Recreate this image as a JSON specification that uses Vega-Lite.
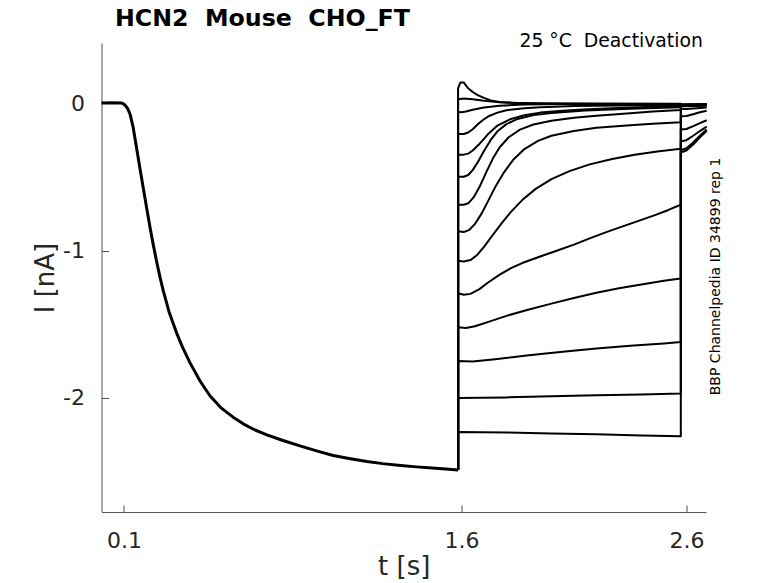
{
  "$schema": "https://vega.github.io/schema/vega-lite/v6.json",
  "width": 604.5,
  "height": 469,
  "autosize": {"type": "none"},
  "padding": {"left": 101.5, "top": 43, "right": 72, "bottom": 71},
  "background": "white",
  "config": {"view": {"stroke": null}, "font": "DejaVu Sans"},
  "title": {"text": "HCN2\u00a0\u00a0Mouse\u00a0\u00a0CHO_FT", "anchor": "start", "frame": "group", "dx": 13.5, "offset": 1, "fontSize": 23.7, "fontWeight": "bold", "font": "DejaVu Sans", "color": "#000000"},
  "layer": [
    {
      "data": {"values": [
        {"s":"pre","t":0,"I":0},{"s":"pre","t":0.04,"I":0.002},{"s":"pre","t":0.09,"I":0},{"s":"pre","t":0.097,"I":-0.005},{"s":"pre","t":0.105,"I":-0.015},{"s":"pre","t":0.115,"I":-0.035},{"s":"pre","t":0.127,"I":-0.075},{"s":"pre","t":0.14,"I":-0.16},{"s":"pre","t":0.156,"I":-0.305},{"s":"pre","t":0.17,"I":-0.435},{"s":"pre","t":0.186,"I":-0.58},{"s":"pre","t":0.2,"I":-0.705},{"s":"pre","t":0.216,"I":-0.845},{"s":"pre","t":0.23,"I":-0.96},{"s":"pre","t":0.245,"I":-1.075},{"s":"pre","t":0.26,"I":-1.18},{"s":"pre","t":0.275,"I":-1.275},{"s":"pre","t":0.3,"I":-1.415},{"s":"pre","t":0.334,"I":-1.56},{"s":"pre","t":0.36,"I":-1.655},{"s":"pre","t":0.393,"I":-1.76},{"s":"pre","t":0.438,"I":-1.885},{"s":"pre","t":0.482,"I":-1.985},{"s":"pre","t":0.53,"I":-2.065},{"s":"pre","t":0.585,"I":-2.13},{"s":"pre","t":0.63,"I":-2.175},{"s":"pre","t":0.68,"I":-2.215},{"s":"pre","t":0.735,"I":-2.25},{"s":"pre","t":0.8,"I":-2.285},{"s":"pre","t":0.882,"I":-2.325},{"s":"pre","t":0.96,"I":-2.36},{"s":"pre","t":1.03,"I":-2.39},{"s":"pre","t":1.1,"I":-2.41},{"s":"pre","t":1.18,"I":-2.43},{"s":"pre","t":1.25,"I":-2.445},{"s":"pre","t":1.33,"I":-2.458},{"s":"pre","t":1.4,"I":-2.467},{"s":"pre","t":1.47,"I":-2.475},{"s":"pre","t":1.53,"I":-2.482},{"s":"pre","t":1.585,"I":-2.488},

        {"s":"k1","t":1.585,"I":-2.488},{"s":"k1","t":1.585,"I":0.1},{"s":"k1","t":1.595,"I":0.14},{"s":"k1","t":1.61,"I":0.14},{"s":"k1","t":1.63,"I":0.1},{"s":"k1","t":1.65,"I":0.075},{"s":"k1","t":1.67,"I":0.055},{"s":"k1","t":1.7,"I":0.035},{"s":"k1","t":1.73,"I":0.018},{"s":"k1","t":1.77,"I":0.007},{"s":"k1","t":1.82,"I":0.002},{"s":"k1","t":1.95,"I":-0.003},{"s":"k1","t":2.2,"I":-0.005},{"s":"k1","t":2.575,"I":-0.005},{"s":"k1","t":2.575,"I":-0.01},{"s":"k1","t":2.69,"I":-0.008},

        {"s":"k2","t":1.585,"I":-2.488},{"s":"k2","t":1.585,"I":0.025},{"s":"k2","t":1.61,"I":0.03},{"s":"k2","t":1.65,"I":0.025},{"s":"k2","t":1.7,"I":0.015},{"s":"k2","t":1.77,"I":0.006},{"s":"k2","t":1.85,"I":0},{"s":"k2","t":2.0,"I":-0.004},{"s":"k2","t":2.575,"I":-0.006},{"s":"k2","t":2.575,"I":-0.01},{"s":"k2","t":2.69,"I":-0.008},

        {"s":"k3","t":1.585,"I":-2.488},{"s":"k3","t":1.585,"I":-0.06},{"s":"k3","t":1.6,"I":-0.062},{"s":"k3","t":1.62,"I":-0.057},{"s":"k3","t":1.65,"I":-0.045},{"s":"k3","t":1.7,"I":-0.03},{"s":"k3","t":1.77,"I":-0.018},{"s":"k3","t":1.88,"I":-0.01},{"s":"k3","t":2.05,"I":-0.007},{"s":"k3","t":2.575,"I":-0.008},{"s":"k3","t":2.575,"I":-0.012},{"s":"k3","t":2.69,"I":-0.01},

        {"s":"k4","t":1.585,"I":-2.488},{"s":"k4","t":1.585,"I":-0.21},{"s":"k4","t":1.61,"I":-0.21},{"s":"k4","t":1.63,"I":-0.2},{"s":"k4","t":1.65,"I":-0.178},{"s":"k4","t":1.675,"I":-0.14},{"s":"k4","t":1.7,"I":-0.11},{"s":"k4","t":1.72,"I":-0.09},{"s":"k4","t":1.76,"I":-0.065},{"s":"k4","t":1.8,"I":-0.049},{"s":"k4","t":1.88,"I":-0.035},{"s":"k4","t":1.95,"I":-0.029},{"s":"k4","t":2.1,"I":-0.021},{"s":"k4","t":2.3,"I":-0.016},{"s":"k4","t":2.575,"I":-0.012},{"s":"k4","t":2.575,"I":-0.013},{"s":"k4","t":2.69,"I":-0.011},

        {"s":"k5","t":1.585,"I":-2.488},{"s":"k5","t":1.585,"I":-0.35},{"s":"k5","t":1.61,"I":-0.35},{"s":"k5","t":1.63,"I":-0.343},{"s":"k5","t":1.65,"I":-0.322},{"s":"k5","t":1.675,"I":-0.285},{"s":"k5","t":1.7,"I":-0.243},{"s":"k5","t":1.72,"I":-0.208},{"s":"k5","t":1.76,"I":-0.153},{"s":"k5","t":1.82,"I":-0.108},{"s":"k5","t":1.88,"I":-0.083},{"s":"k5","t":1.95,"I":-0.065},{"s":"k5","t":2.05,"I":-0.052},{"s":"k5","t":2.16,"I":-0.043},{"s":"k5","t":2.3,"I":-0.033},{"s":"k5","t":2.45,"I":-0.025},{"s":"k5","t":2.575,"I":-0.02},{"s":"k5","t":2.575,"I":-0.014},{"s":"k5","t":2.69,"I":-0.012},

        {"s":"k6","t":1.585,"I":-2.488},{"s":"k6","t":1.585,"I":-0.5},{"s":"k6","t":1.61,"I":-0.5},{"s":"k6","t":1.63,"I":-0.488},{"s":"k6","t":1.65,"I":-0.455},{"s":"k6","t":1.675,"I":-0.395},{"s":"k6","t":1.7,"I":-0.325},{"s":"k6","t":1.73,"I":-0.25},{"s":"k6","t":1.76,"I":-0.192},{"s":"k6","t":1.8,"I":-0.143},{"s":"k6","t":1.85,"I":-0.108},{"s":"k6","t":1.92,"I":-0.082},{"s":"k6","t":2.0,"I":-0.067},{"s":"k6","t":2.15,"I":-0.05},{"s":"k6","t":2.35,"I":-0.038},{"s":"k6","t":2.575,"I":-0.028},{"s":"k6","t":2.575,"I":-0.015},{"s":"k6","t":2.69,"I":-0.013},

        {"s":"k7","t":1.585,"I":-2.488},{"s":"k7","t":1.585,"I":-0.69},{"s":"k7","t":1.61,"I":-0.69},{"s":"k7","t":1.63,"I":-0.68},{"s":"k7","t":1.655,"I":-0.638},{"s":"k7","t":1.68,"I":-0.57},{"s":"k7","t":1.71,"I":-0.47},{"s":"k7","t":1.74,"I":-0.375},{"s":"k7","t":1.77,"I":-0.3},{"s":"k7","t":1.81,"I":-0.232},{"s":"k7","t":1.86,"I":-0.18},{"s":"k7","t":1.92,"I":-0.146},{"s":"k7","t":2.0,"I":-0.12},{"s":"k7","t":2.1,"I":-0.1},{"s":"k7","t":2.2,"I":-0.087},{"s":"k7","t":2.35,"I":-0.07},{"s":"k7","t":2.45,"I":-0.058},{"s":"k7","t":2.575,"I":-0.047},{"s":"k7","t":2.575,"I":-0.018},{"s":"k7","t":2.69,"I":-0.015},

        {"s":"k8","t":1.585,"I":-2.488},{"s":"k8","t":1.585,"I":-0.87},{"s":"k8","t":1.61,"I":-0.875},{"s":"k8","t":1.635,"I":-0.86},{"s":"k8","t":1.66,"I":-0.82},{"s":"k8","t":1.69,"I":-0.748},{"s":"k8","t":1.72,"I":-0.66},{"s":"k8","t":1.75,"I":-0.57},{"s":"k8","t":1.79,"I":-0.468},{"s":"k8","t":1.83,"I":-0.385},{"s":"k8","t":1.88,"I":-0.312},{"s":"k8","t":1.94,"I":-0.257},{"s":"k8","t":2.0,"I":-0.222},{"s":"k8","t":2.1,"I":-0.19},{"s":"k8","t":2.2,"I":-0.168},{"s":"k8","t":2.35,"I":-0.15},{"s":"k8","t":2.45,"I":-0.14},{"s":"k8","t":2.575,"I":-0.13},{"s":"k8","t":2.575,"I":-0.022},{"s":"k8","t":2.69,"I":-0.018},

        {"s":"k9","t":1.585,"I":-2.488},{"s":"k9","t":1.585,"I":-1.07},{"s":"k9","t":1.61,"I":-1.075},{"s":"k9","t":1.64,"I":-1.065},{"s":"k9","t":1.67,"I":-1.03},{"s":"k9","t":1.7,"I":-0.975},{"s":"k9","t":1.74,"I":-0.893},{"s":"k9","t":1.78,"I":-0.812},{"s":"k9","t":1.82,"I":-0.738},{"s":"k9","t":1.87,"I":-0.658},{"s":"k9","t":1.93,"I":-0.582},{"s":"k9","t":2.0,"I":-0.516},{"s":"k9","t":2.08,"I":-0.462},{"s":"k9","t":2.17,"I":-0.416},{"s":"k9","t":2.27,"I":-0.379},{"s":"k9","t":2.37,"I":-0.35},{"s":"k9","t":2.47,"I":-0.328},{"s":"k9","t":2.575,"I":-0.31},{"s":"k9","t":2.575,"I":-0.04},{"s":"k9","t":2.6,"I":-0.04},{"s":"k9","t":2.69,"I":-0.03},

        {"s":"k10","t":1.585,"I":-2.488},{"s":"k10","t":1.585,"I":-1.29},{"s":"k10","t":1.61,"I":-1.3},{"s":"k10","t":1.64,"I":-1.294},{"s":"k10","t":1.68,"I":-1.262},{"s":"k10","t":1.72,"I":-1.215},{"s":"k10","t":1.77,"I":-1.163},{"s":"k10","t":1.82,"I":-1.12},{"s":"k10","t":1.87,"I":-1.085},{"s":"k10","t":1.95,"I":-1.041},{"s":"k10","t":2.02,"I":-1.003},{"s":"k10","t":2.1,"I":-0.96},{"s":"k10","t":2.17,"I":-0.918},{"s":"k10","t":2.25,"I":-0.872},{"s":"k10","t":2.32,"I":-0.835},{"s":"k10","t":2.4,"I":-0.792},{"s":"k10","t":2.46,"I":-0.76},{"s":"k10","t":2.52,"I":-0.725},{"s":"k10","t":2.575,"I":-0.69},{"s":"k10","t":2.575,"I":-0.09},{"s":"k10","t":2.6,"I":-0.088},{"s":"k10","t":2.63,"I":-0.076},{"s":"k10","t":2.66,"I":-0.063},{"s":"k10","t":2.69,"I":-0.052},

        {"s":"k11","t":1.585,"I":-2.488},{"s":"k11","t":1.585,"I":-1.52},{"s":"k11","t":1.62,"I":-1.525},{"s":"k11","t":1.66,"I":-1.514},{"s":"k11","t":1.72,"I":-1.484},{"s":"k11","t":1.8,"I":-1.443},{"s":"k11","t":1.9,"I":-1.4},{"s":"k11","t":2.0,"I":-1.36},{"s":"k11","t":2.1,"I":-1.322},{"s":"k11","t":2.2,"I":-1.287},{"s":"k11","t":2.3,"I":-1.256},{"s":"k11","t":2.4,"I":-1.23},{"s":"k11","t":2.5,"I":-1.205},{"s":"k11","t":2.575,"I":-1.19},{"s":"k11","t":2.575,"I":-0.18},{"s":"k11","t":2.6,"I":-0.176},{"s":"k11","t":2.63,"I":-0.157},{"s":"k11","t":2.66,"I":-0.136},{"s":"k11","t":2.69,"I":-0.117},

        {"s":"k12","t":1.585,"I":-2.488},{"s":"k12","t":1.585,"I":-1.75},{"s":"k12","t":1.65,"I":-1.752},{"s":"k12","t":1.75,"I":-1.737},{"s":"k12","t":1.9,"I":-1.71},{"s":"k12","t":2.05,"I":-1.686},{"s":"k12","t":2.2,"I":-1.665},{"s":"k12","t":2.35,"I":-1.645},{"s":"k12","t":2.5,"I":-1.63},{"s":"k12","t":2.575,"I":-1.62},{"s":"k12","t":2.575,"I":-0.26},{"s":"k12","t":2.6,"I":-0.252},{"s":"k12","t":2.63,"I":-0.222},{"s":"k12","t":2.66,"I":-0.19},{"s":"k12","t":2.69,"I":-0.16},

        {"s":"k13","t":1.585,"I":-2.488},{"s":"k13","t":1.585,"I":-2.0},{"s":"k13","t":1.8,"I":-1.996},{"s":"k13","t":2.0,"I":-1.988},{"s":"k13","t":2.2,"I":-1.982},{"s":"k13","t":2.4,"I":-1.976},{"s":"k13","t":2.575,"I":-1.97},{"s":"k13","t":2.575,"I":-0.32},{"s":"k13","t":2.6,"I":-0.307},{"s":"k13","t":2.63,"I":-0.268},{"s":"k13","t":2.66,"I":-0.222},{"s":"k13","t":2.69,"I":-0.18},

        {"s":"k14","t":1.585,"I":-2.488},{"s":"k14","t":1.585,"I":-2.23},{"s":"k14","t":1.8,"I":-2.234},{"s":"k14","t":2.0,"I":-2.24},{"s":"k14","t":2.2,"I":-2.246},{"s":"k14","t":2.4,"I":-2.254},{"s":"k14","t":2.575,"I":-2.26},{"s":"k14","t":2.575,"I":-0.335},{"s":"k14","t":2.6,"I":-0.322},{"s":"k14","t":2.63,"I":-0.282},{"s":"k14","t":2.66,"I":-0.232},{"s":"k14","t":2.69,"I":-0.19}
      ]},
      "mark": {"type": "line", "color": "#000000", "interpolate": "linear", "strokeJoin": "round"},
      "encoding": {
        "x": {"field": "t", "type": "quantitative",
              "scale": {"domain": [0, 2.687], "nice": false, "zero": false},
              "axis": {"title": "t [s]", "values": [0.1, 1.6, 2.6], "format": ".1f", "grid": false,
                       "tickSize": -7, "tickColor": "#555555", "domainColor": "#555555", "domainWidth": 1,
                       "labelFontSize": 22, "labelColor": "#262626", "labelPadding": 25, "labelFont": "DejaVu Sans",
                       "titleFontSize": 26, "titleFontWeight": "normal", "titleColor": "#262626", "titlePadding": 2, "titleFont": "DejaVu Sans"}},
        "y": {"field": "I", "type": "quantitative",
              "scale": {"domain": [-2.773, 0.407], "nice": false, "zero": false},
              "axis": {"title": "I [nA]", "values": [-2, -1, 0], "labelExpr": "toString(datum.value)", "grid": false,
                       "tickSize": -7, "tickColor": "#555555", "domainColor": "#555555", "domainWidth": 1,
                       "labelFontSize": 22, "labelColor": "#262626", "labelPadding": 24, "labelFont": "DejaVu Sans",
                       "titleFontSize": 26, "titleFontWeight": "normal", "titleColor": "#262626", "titlePadding": 4, "titleFont": "DejaVu Sans"}},
        "detail": {"field": "s"},
        "order": {"value": null},
        "strokeWidth": {"condition": {"test": "datum.s === 'pre'", "value": 3}, "value": 2}
      }
    },
    {
      "data": {"values": [{}]},
      "mark": {"type": "text", "align": "right", "baseline": "middle", "fontSize": 18.8, "font": "DejaVu Sans", "color": "#000000"},
      "encoding": {
        "x": {"datum": 2.673, "type": "quantitative"},
        "y": {"datum": 0.42, "type": "quantitative"},
        "text": {"value": "25 °C\u00a0\u00a0Deactivation"}
      }
    },
    {
      "data": {"values": [{}]},
      "mark": {"type": "text", "align": "center", "baseline": "middle", "angle": 270, "fontSize": 14, "font": "DejaVu Sans", "color": "#000000"},
      "encoding": {
        "x": {"datum": 2.731, "type": "quantitative"},
        "y": {"datum": -1.176, "type": "quantitative"},
        "text": {"value": "BBP Channelpedia ID 34899 rep 1"}
      }
    }
  ]
}
